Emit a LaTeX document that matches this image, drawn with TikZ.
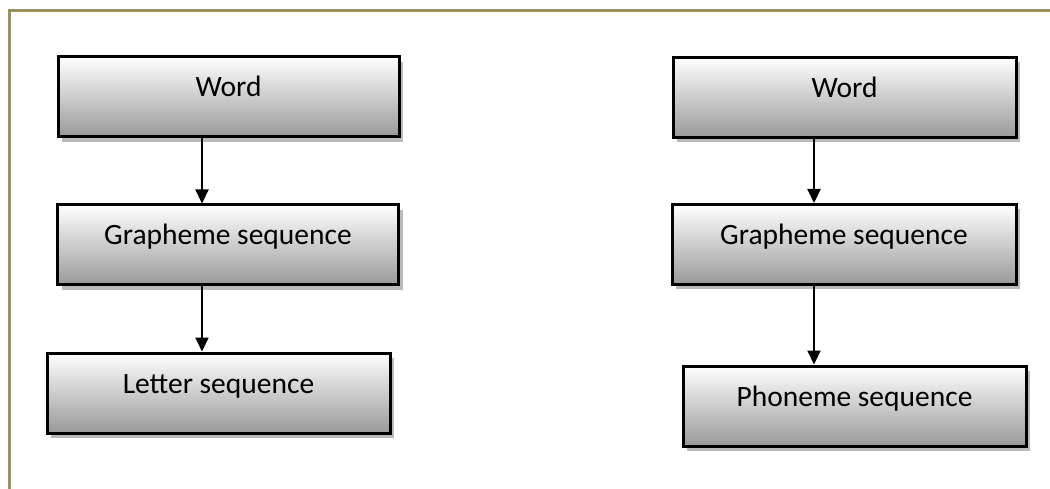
\documentclass[tikz,border=0pt]{standalone}
\usepackage{fontspec}
\setmainfont{Carlito}
\usetikzlibrary{arrows.meta,shadows}

\definecolor{framecol}{RGB}{155,144,94}

\tikzset{
    box/.style={rectangle, draw=black, line width=3pt,
        top color=white, bottom color=black!40,
        minimum width=341pt, inner xsep=0pt, inner ysep=0pt,
        text height=40pt, text depth=40pt,
        drop shadow={shadow xshift=4pt, shadow yshift=-5pt, fill=black!27, opacity=1}},
    link/.style={-{Triangle[width=13pt,length=14pt]}, line width=2.2pt}
}

\begin{document}
\begin{tikzpicture}[x=1pt, y=-1pt, font=\fontsize{29.5}{35}\selectfont]
            \useasboundingbox (0,0) rectangle (1050,489);

            % page frame, top and left only
            \draw [framecol, line width=3pt] (1050,11) -- (9,11) -- (9,489);

            % left column
            \node [box] (word1) at (228.5,97) {Word};
            \node [box] (graph1) at (228,245) {Grapheme sequence};
            \node [box, minimum width=343pt] (letter) at (218.5,393) {Letter sequence};

            % right column
            \node [box, minimum width=343pt] (word2) at (844.5,97.5) {Word};
            \node [box, minimum width=344pt] (graph2) at (844,244.5) {Grapheme sequence};
            \node [box, minimum width=343pt] (phon) at (854.5,406) {Phoneme sequence};

            \coordinate (xl) at (202,0);
            \coordinate (xr) at (814,0);

            \draw [link] (word1.south -| xl) -- (graph1.north -| xl);
            \draw [link] (graph1.south -| xl) -- (letter.north -| xl);
            \draw [link] (word2.south -| xr) -- (graph2.north -| xr);
            \draw [link] (graph2.south -| xr) -- (phon.north -| xr);
\end{tikzpicture}
\end{document}
